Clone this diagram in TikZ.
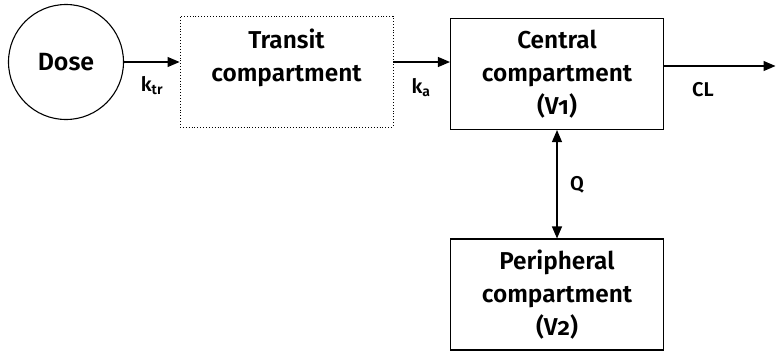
\documentclass[tikz,border=0pt]{standalone}
\usepackage{fontspec}
\setmainfont{Fira Sans}[Numbers=OldStyle,BoldFont={Fira Sans SemiBold}]
\usetikzlibrary{arrows.meta}

\begin{document}
\begin{tikzpicture}[x=1bp,y=-1bp,>={Triangle[length=12bp,width=10bp]},line width=1.1bp,
  box/.style={draw,minimum width=213bp,minimum height=111bp,inner sep=0pt,align=center,
    font=\fontsize{24.5}{33}\selectfont\bfseries},
  rate/.style={inner sep=0pt,font=\fontsize{20}{22}\selectfont\bfseries}]
\useasboundingbox (0,0) rectangle (776,353);
\node[circle,draw,minimum size=115bp,inner sep=0pt,font=\fontsize{25}{33}\selectfont\bfseries] (dose) at (66,62) {Dose};
\node[box,dotted,line width=0.9bp] (transit) at (286.5,71.5) {Transit\\compartment\\\mbox{}};
\node[box] (central) at (557,74) {Central\\compartment\\(V1)};
\node[box] (periph) at (557,294.5) {Peripheral\\compartment\\(V2)};
\coordinate (out) at (775.5,66);
\draw[->] (dose.east) -- (dose.east -| transit.west);
\draw[->] (transit.east |- dose) -- (central.west |- dose);
\draw[->] (central.east |- out) -- (out);
\draw[<->] (central.south) -- (periph.north);
\node[rate] (ktr) at (152,86) {k\textsubscript{tr}};
\node[rate] (ka) at (421,88) {k\textsubscript{a}};
\node[rate] (cl) at (703,90) {CL};
\node[rate] (q) at (577,185) {Q};
\end{tikzpicture}
\end{document}
